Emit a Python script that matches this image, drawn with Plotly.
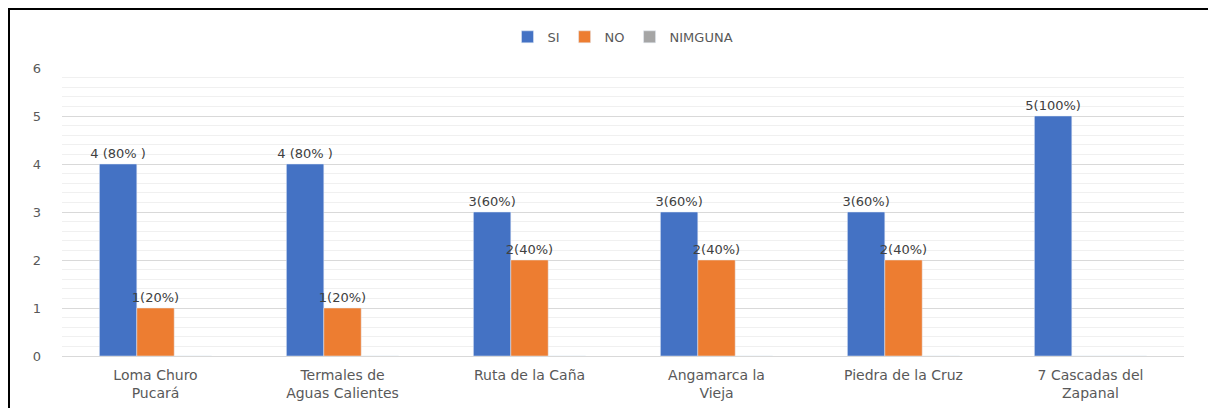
import plotly.graph_objects as go

categories = ["Loma Churo<br>Pucará", "Termales de<br>Aguas Calientes", "Ruta de la Caña",
              "Angamarca la<br>Vieja", "Piedra de la Cruz", "7 Cascadas del<br>Zapanal"]
si_values = [4, 4, 3, 3, 3, 5]
no_values = [1, 1, 2, 2, 2, 0]
nimguna_values = [0, 0, 0, 0, 0, 0]
si_labels = ["4 (80% )", "4 (80% )", "3(60%)", "3(60%)", "3(60%)", "5(100%)"]
no_labels = ["1(20%)", "1(20%)", "2(40%)", "2(40%)", "2(40%)", ""]
y_ticks = [0, 1, 2, 3, 4, 5, 6]

font_family = "DejaVu Sans, Liberation Sans, Arial, sans-serif"
lbl_font = dict(family=font_family, size=13, color="#404040")

# plot area (figure px): x 54..1176, y 60..348
L, R, T, B = 54, 1176, 60, 348
W, H = 1208, 400

fig = go.Figure()
fig.add_trace(go.Bar(name="SI", x=categories, y=si_values, marker_color="#4472C4",
                     text=si_labels, textposition="outside", textfont=lbl_font,
                     constraintext="none", cliponaxis=False))
fig.add_trace(go.Bar(name="NO", x=categories, y=no_values, marker_color="#ED7D31",
                     text=no_labels, textposition="outside", textfont=lbl_font,
                     constraintext="none", cliponaxis=False))
fig.add_trace(go.Bar(name="NIMGUNA", x=categories, y=nimguna_values, marker_color="#A5A5A5"))

fig.update_layout(
    width=W, height=H,
    margin=dict(l=L, r=W - R, t=T, b=H - B, autoexpand=False),
    paper_bgcolor="white", plot_bgcolor="white",
    barmode="group", bargap=0.4, bargroupgap=0,
    font=dict(family=font_family, size=13, color="#595959"),
    legend=dict(orientation="h", x=0.5, xanchor="center", y=1.056, yanchor="bottom",
                font=dict(size=13, color="#595959"), itemwidth=30,
                traceorder="normal"),
    showlegend=True,
)
fig.update_xaxes(showgrid=False, showline=True, linecolor="#D9D9D9", linewidth=1,
                 tickfont=dict(size=14, color="#595959"), ticks="",
                 ticklabelstandoff=6)
fig.update_yaxes(range=[0, 6], tickvals=y_ticks, showgrid=True, gridcolor="#D9D9D9",
                 gridwidth=1, zeroline=False, showline=False, ticks="",
                 tickfont=dict(size=13, color="#595959"),
                 minor=dict(dtick=0.2, showgrid=True, gridcolor="#F0F0F0", gridwidth=1),
                 ticklabelstandoff=20)

pw, ph = R - L, B - T
fig.add_shape(type="rect", xref="paper", yref="paper",
              x0=(1 - L) / pw, x1=(1203 - L) / pw,
              y0=(B - 420) / ph, y1=(B - 1) / ph,
              line=dict(color="black", width=2), fillcolor="rgba(0,0,0,0)", layer="above")

fig.write_html("out.html")
